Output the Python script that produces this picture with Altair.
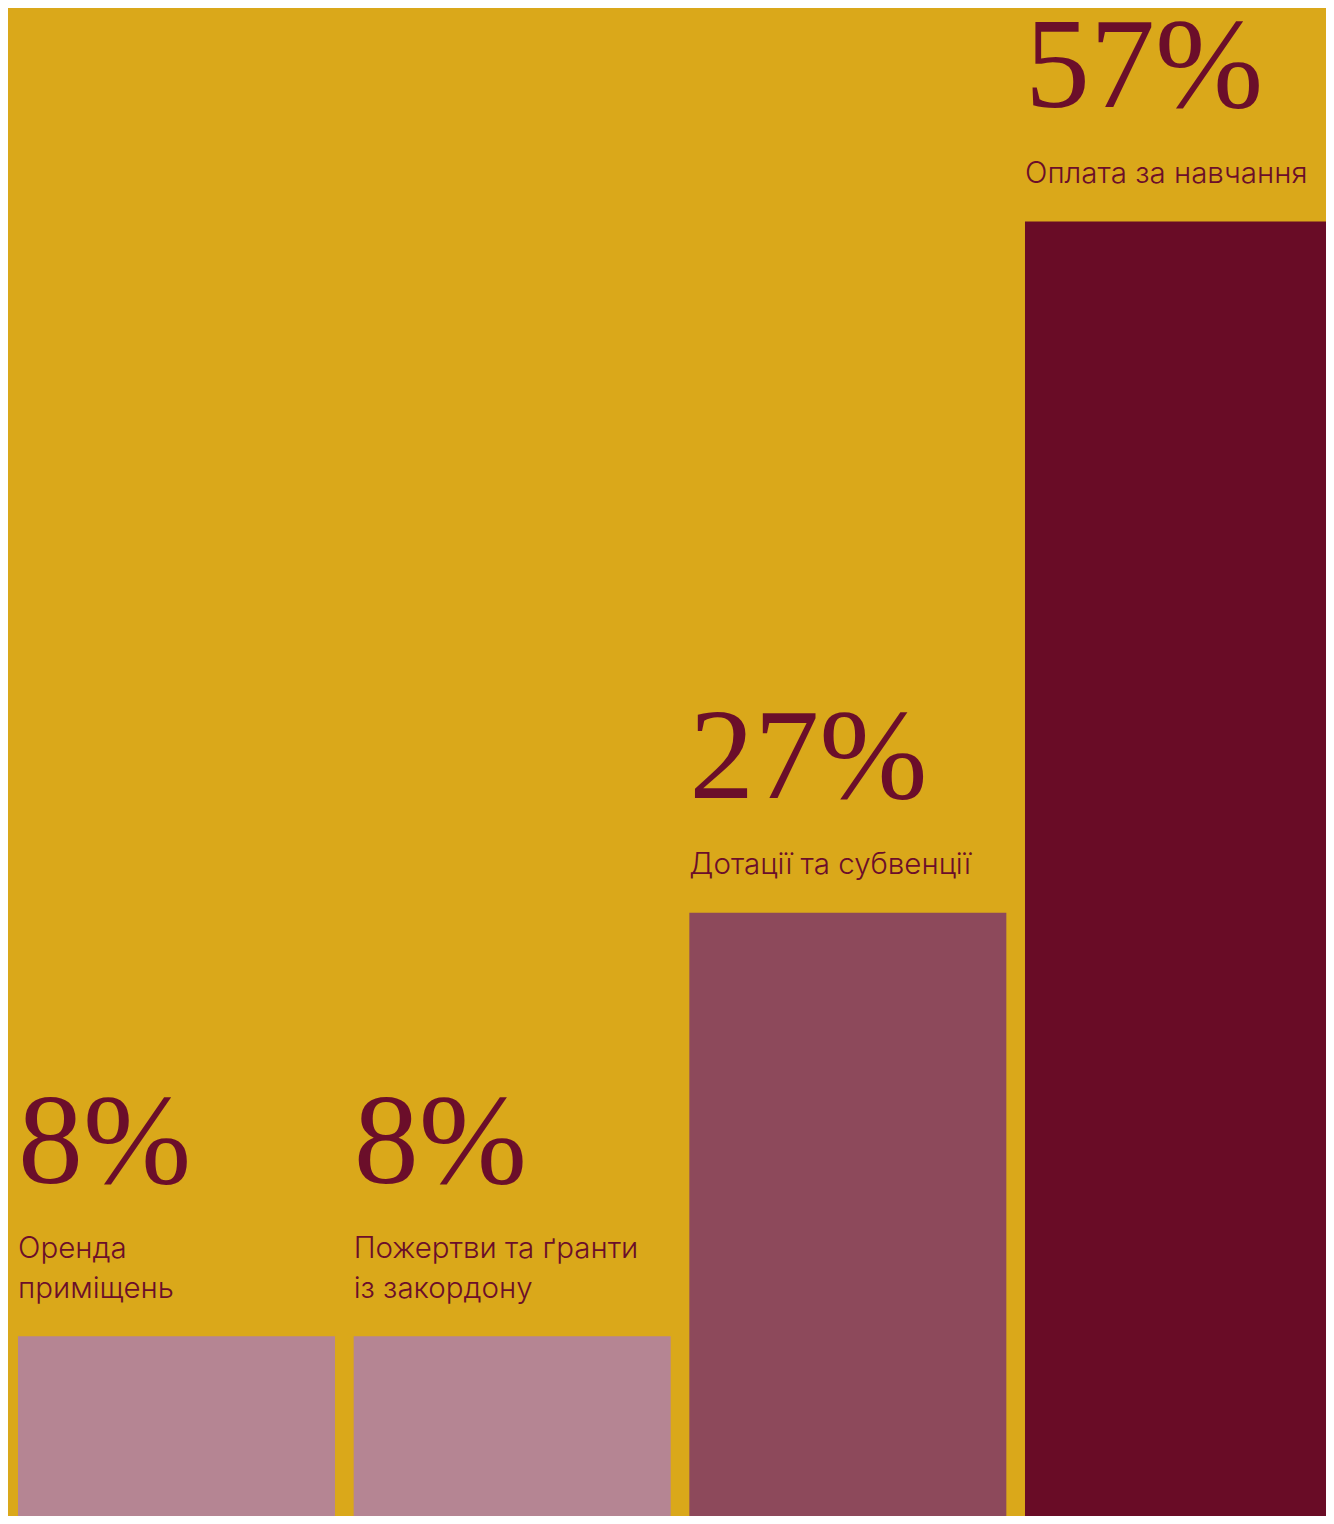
import altair as alt
import pandas as pd

categories = [
    "Оренда приміщень",
    "Пожертви та ґранти із закордону",
    "Дотації та субвенції",
    "Оплата за навчання",
]
label_lines = [
    ["Оренда", "приміщень"],
    ["Пожертви та ґранти", "із закордону"],
    ["Дотації та субвенції"],
    ["Оплата за навчання"],
]
shares = [8.2, 8.2, 26.7, 56.9]
bar_colors = ["#B58593", "#B58593", "#8D495B", "#690C26"]

BG = "#DAA81A"
TXT = "#6B0E2A"

df = pd.DataFrame({"cat": categories, "share": shares, "lines": label_lines})
df["nlines"] = [len(l) for l in label_lines]

xs = alt.Scale(domain=categories, paddingInner=0.0556, paddingOuter=0.0298, range=[0, 1344])
ys = alt.Scale(domain=[0.35, 66.23], nice=False, zero=False)

base = alt.Chart(df)

bars = base.mark_bar(cornerRadius=0, clip=True).encode(
    x=alt.X("cat:N", sort=categories, scale=xs, axis=None),
    y=alt.Y("share:Q", scale=ys, axis=None),
    y2=alt.datum(0),
    color=alt.Color("cat:N", scale=alt.Scale(domain=categories, range=bar_colors), legend=None),
)


def text_layers(n, pct_dy, lab_dy):
    sub = base.transform_filter(f"datum.nlines == {n}")
    pct = (
        sub.transform_calculate(pct="format(datum.share, '.0f') + '%'")
        .mark_text(
            font="Liberation Serif",
            fontSize=130,
            align="left",
            baseline="alphabetic",
            color=TXT,
            dy=pct_dy,
        )
        .encode(
            x=alt.X("cat:N", sort=categories, bandPosition=0, axis=None),
            y=alt.Y("share:Q", axis=None),
            text="pct:N",
        )
    )
    lab = sub.mark_text(
        font="Inter",
        fontSize=29.5,
        fontWeight=300,
        align="left",
        baseline="alphabetic",
        lineHeight=40,
        color=TXT,
        dy=lab_dy,
    ).encode(
        x=alt.X("cat:N", sort=categories, bandPosition=0, axis=None),
        y=alt.Y("share:Q", axis=None),
        text="lines",
    )
    return [pct, lab]


layers = [bars] + text_layers(1, -115, -39) + text_layers(2, -153, -78)

chart = (
    alt.layer(*layers)
    .properties(
        width=1318,
        height=1508,
        background=BG,
        padding=0,
        autosize=alt.AutoSizeParams(type="none"),
    )
    .configure_view(stroke=None)
)

chart.save("out.html", embed_options={"renderer": "svg", "actions": False})
